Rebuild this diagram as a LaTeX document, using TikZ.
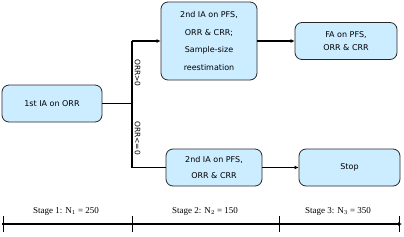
\documentclass[tikz,border=0pt]{standalone}
\usepackage{fontspec}
\setmainfont{Liberation Serif}
\newfontfamily\boxfont{DejaVu Sans}
\usetikzlibrary{arrows.meta}
\definecolor{boxblue}{RGB}{204,236,255}
\definecolor{boxline}{RGB}{40,40,40}
\begin{document}
\begin{tikzpicture}[x=1pt,y=-1pt,
  flowbox/.style={draw=boxline, line width=0.8pt, fill=boxblue, rounded corners=7pt,
    align=center, inner sep=0pt, font=\boxfont\fontsize{8}{13}\selectfont},
  conn/.style={line width=1.8pt, black},
  arr/.style={conn, -{Latex[length=4pt,width=4pt]}},
  stagelbl/.style={font=\fontsize{9}{10}\selectfont, inner sep=0pt},
  condlbl/.style={font=\boxfont\fontsize{7.5}{8}\selectfont, rotate=-90, inner sep=0pt}]
\useasboundingbox (0,0) rectangle (404,236);
\fill[white] (0,0) rectangle (404,236);
% boxes
\node[flowbox, minimum width=100pt, minimum height=37pt] (n1) at (52,103.5) {1st IA on ORR};
\node[flowbox, minimum width=96pt, minimum height=78pt, font=\boxfont\fontsize{8}{17.5}\selectfont] (n2) at (209,41) {2nd IA on PFS,\\ORR \& CRR;\\Sample-size\\reestimation};
\node[flowbox, minimum width=102pt, minimum height=37pt] (n3) at (346,41) {FA on PFS,\\ORR \& CRR};
\node[flowbox, minimum width=96pt, minimum height=37pt, font=\boxfont\fontsize{8}{16}\selectfont] (n4) at (214,167.5) {2nd IA on PFS,\\ORR \& CRR};
\node[flowbox, minimum width=101pt, minimum height=37pt] (n5) at (349.5,167.5) {Stop};
% branch
\coordinate (jt) at (132,41);
\coordinate (jm) at (132,103.5);
\coordinate (jb) at (132,167.5);
\draw[conn] (n1.east) -- (jm);
\draw[conn] (jt) -- (jb);
\draw[arr] (jt) -- (n2.west);
\draw[conn] (jb) -- (n4.west);
\draw[arr] (n2.east |- n3.west) -- (n3.west);
\draw[arr] (n4.east) -- (n5.west);
\node[condlbl] (c1) at (137.5,73) {ORR>0};
\node[condlbl] (c2) at (137.5,138) {ORR<=0};
% timeline
\coordinate (t0) at (2,224);
\coordinate (t3) at (402,224);
\draw[conn, -{Latex[length=4pt,width=4pt]}] (t0) -- (t3);
\foreach \x [count=\i] in {3,132,279,399} {
  \coordinate (tk\i) at (\x,224);
  \draw[line width=0.8pt] ([yshift=-8pt]tk\i) -- ([yshift=8pt]tk\i);
}
\node[stagelbl] (s1) at (66,211) {Stage 1: N$_1$ = 250};
\node[stagelbl] (s2) at (205,211) {Stage 2: N$_2$ = 150};
\node[stagelbl] (s3) at (338,211) {Stage 3: N$_3$ = 350};
\end{tikzpicture}
\end{document}
